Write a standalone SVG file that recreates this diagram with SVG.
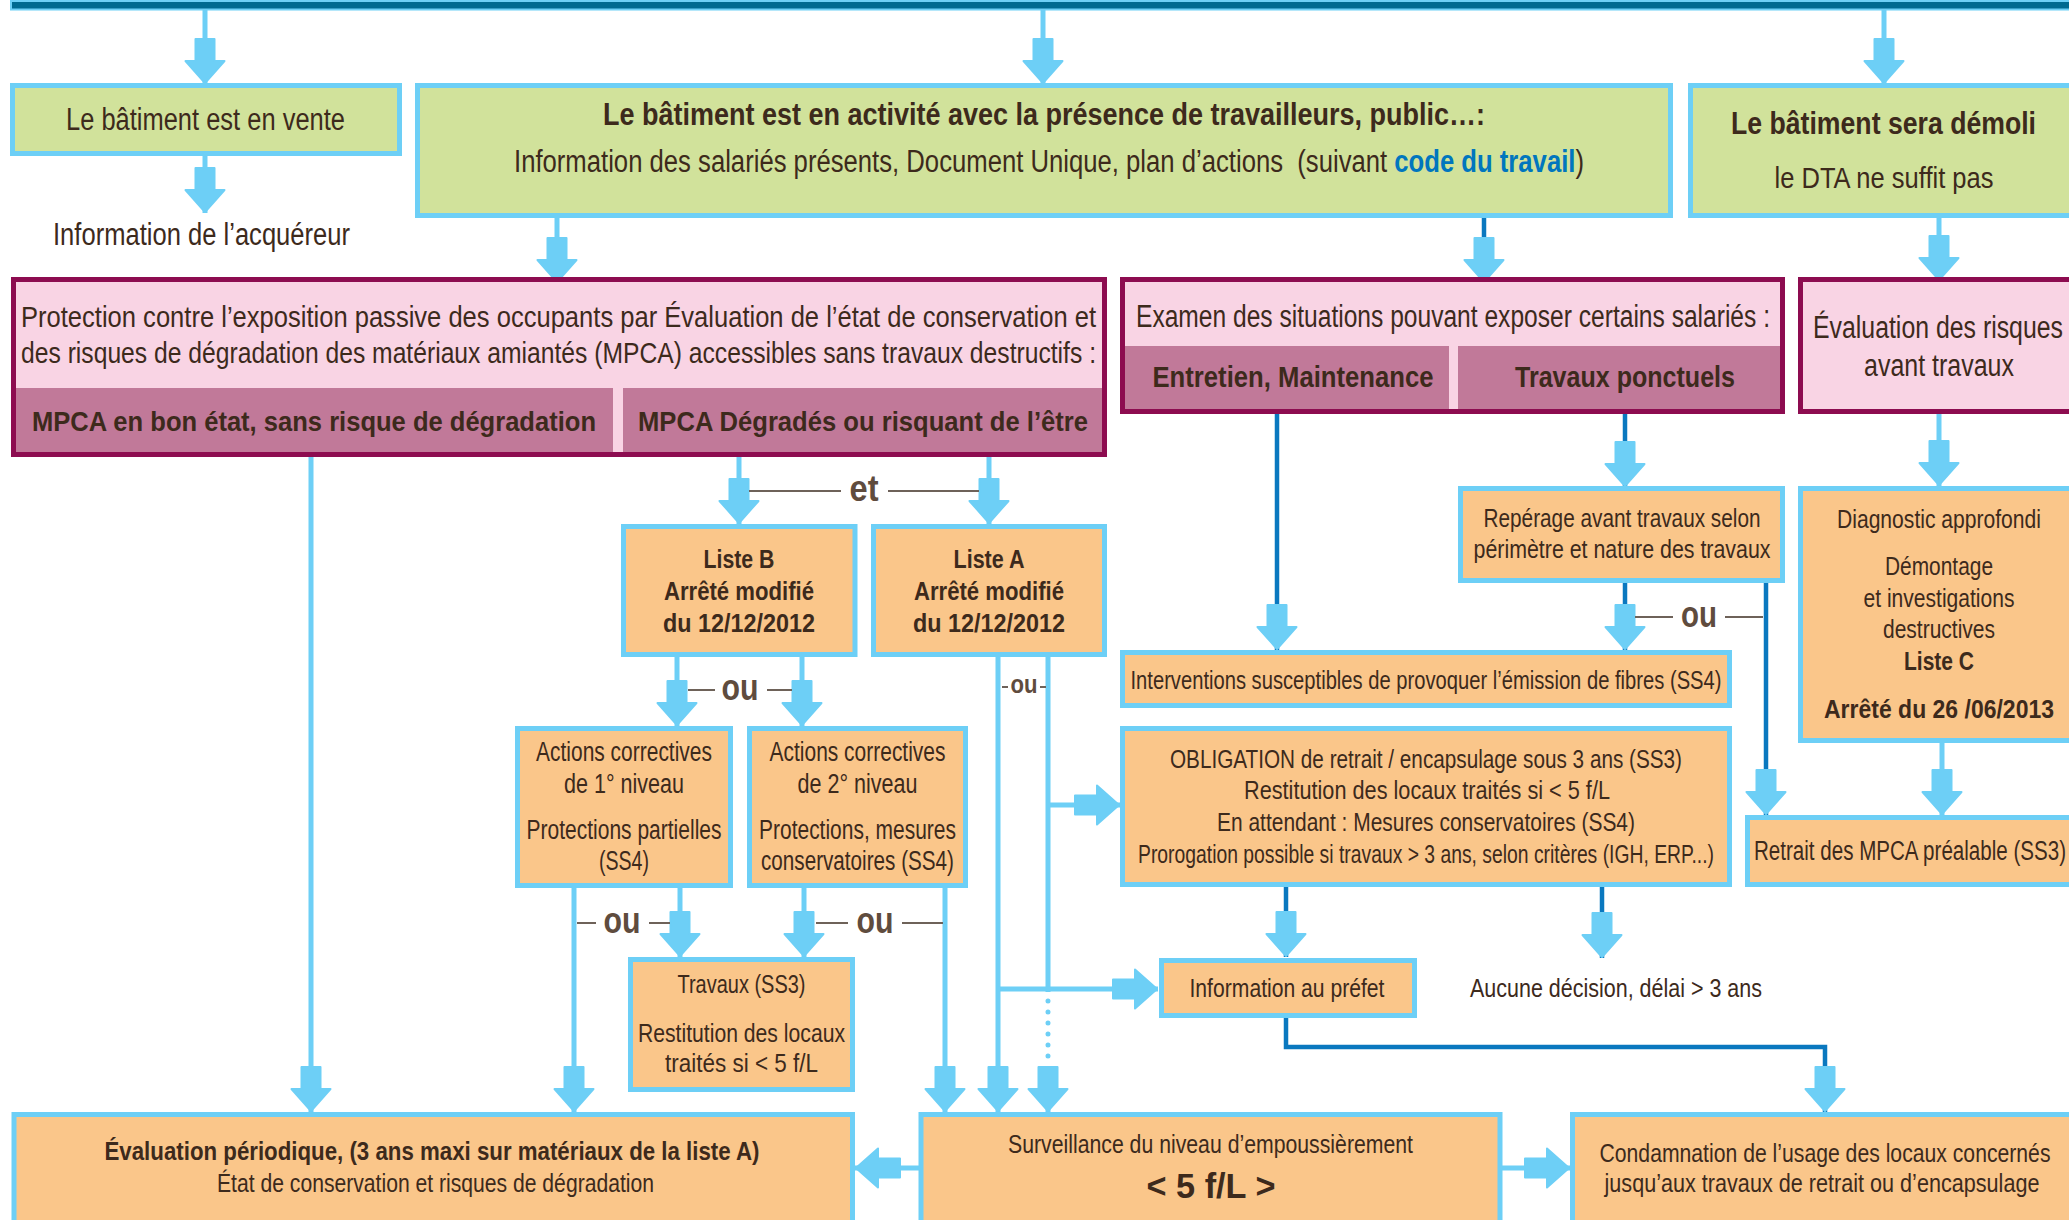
<svg xmlns="http://www.w3.org/2000/svg" width="2069" height="1220" viewBox="0 0 2069 1220">
<defs>
<style>
.t{font-family:"Liberation Sans",Arial,sans-serif;fill:#3d2a1c;text-anchor:middle}
.s{text-anchor:start}
.b{font-weight:bold}
.f31{font-size:31px}.f30{font-size:30px}.f28{font-size:28px}.f27{font-size:27px}.f26{font-size:26px}.f25{font-size:25px}.f24{font-size:24px}
.g{fill:#d1e29b;stroke:#6dcff6;stroke-width:5}
.o{fill:#fac68a;stroke:#6dcff6;stroke-width:5}
.p{fill:#f9d4e4;stroke:#8d0c50;stroke-width:5}
.band{fill:#c17999}
.lb{fill:none;stroke:#6dcff6;stroke-width:5}
.db{fill:none;stroke:#0a78bf;stroke-width:4.5}
.gr{fill:none;stroke:#6e6259;stroke-width:2}
.ou{font-family:"Liberation Sans",Arial,sans-serif;font-weight:bold;fill:#5f4c3e;text-anchor:middle}
.a{marker-end:url(#ah)}
</style>
<marker id="ah" markerUnits="userSpaceOnUse" viewBox="-47 -22 49 44" refX="0" refY="0" markerWidth="49" markerHeight="44" orient="auto" overflow="visible">
<path d="M-45,-9.5 H-23 V-19.5 L-1,0 L-23,19.5 V9.5 H-45 Z" fill="#6dcff6" stroke="#6dcff6" stroke-width="2" stroke-linejoin="round"/>
</marker>
</defs>
<rect width="2069" height="1220" fill="#ffffff"/>
<rect id="topbar" x="11" y="1" width="2080" height="8.5" fill="#006a91" stroke="#6dcff6" stroke-width="2"/>

<g id="connectors">
<path class="lb a" d="M205,10 V84"/>
<path class="lb a" d="M1043,10 V84"/>
<path class="lb a" d="M1884,10 V84"/>
<path class="lb a" d="M205,156 V213"/>
<path class="lb a" d="M557,218 V283"/>
<path class="db" d="M1290,180 V197 H1586 V180"/>
<path class="db a" d="M1484,197 V283"/>
<path class="lb a" d="M1939,218 V281"/>
<path class="lb a" d="M311,455 V1112"/>
<path class="lb a" d="M739,455 V524"/>
<path class="lb a" d="M989,455 V524"/>
<path class="gr" d="M749,491 H841 M888,491 H979"/>
<path class="lb a" d="M677,657 V726"/>
<path class="lb a" d="M802,657 V726"/>
<path class="gr" d="M688,690 H715 M767,690 H792"/>
<path class="lb a" d="M998,657 V1112"/>
<path class="lb" d="M1048,657 V992"/>
<path class="lb" d="M1048,1001 V1060" stroke-dasharray="0 11" stroke-linecap="round"/>
<path class="lb a" d="M1048,1066 V1112"/>
<path class="gr" d="M1002,687 H1008 M1040,687 H1046"/>
<path class="lb a" d="M1048,805 H1120"/>
<path class="lb a" d="M998,989 H1158"/>
<path class="lb a" d="M574,887 V1112"/>
<path class="lb a" d="M680,887 V957"/>
<path class="lb a" d="M804,887 V957"/>
<path class="lb a" d="M945,887 V1112"/>
<path class="gr" d="M577,923 H596 M649,923 H670 M816,923 H848 M902,923 H943"/>
<path class="lb a" d="M919,1168 H855"/>
<path class="lb a" d="M1502,1168 H1570"/>
<path class="db a" d="M1277,412 V650"/>
<path class="db a" d="M1625,412 V487"/>
<path class="db a" d="M1625,583 V650"/>
<path class="db a" d="M1766,583 V815"/>
<path class="gr" d="M1635,617 H1673 M1725,617 H1763"/>
<path class="lb a" d="M1939,412 V486"/>
<path class="lb a" d="M1942,743 V815"/>
<path class="db a" d="M1286,887 V957"/>
<path class="db a" d="M1602,887 V958"/>
<path class="db a" d="M1286,1018 V1047 H1825 V1112"/>
<text class="ou" x="864" y="501" font-size="36" textLength="29" lengthAdjust="spacingAndGlyphs">et</text>
<text class="ou" x="740" y="700" font-size="36" textLength="37" lengthAdjust="spacingAndGlyphs">ou</text>
<text class="ou" x="622" y="933" font-size="36" textLength="37" lengthAdjust="spacingAndGlyphs">ou</text>
<text class="ou" x="875" y="933" font-size="36" textLength="37" lengthAdjust="spacingAndGlyphs">ou</text>
<text class="ou" x="1699" y="627" font-size="36" textLength="36" lengthAdjust="spacingAndGlyphs">ou</text>
<text class="ou" x="1024" y="693" font-size="26" textLength="27" lengthAdjust="spacingAndGlyphs">ou</text>
</g>

<g id="vente">
<rect class="g" x="12.5" y="85.5" width="387" height="68"/>
<text class="t f31" x="205.5" y="130" textLength="279" lengthAdjust="spacingAndGlyphs">Le bâtiment est en vente</text>
</g>
<g id="acquereur">
<text class="t f31" x="201.5" y="245" textLength="297" lengthAdjust="spacingAndGlyphs">Information de l’acquéreur</text>
</g>

<g id="activite">
<rect class="g" x="417.5" y="85.5" width="1253" height="130"/>
<text class="t f31 b" x="1044" y="125" textLength="882" lengthAdjust="spacingAndGlyphs">Le bâtiment est en activité avec la présence de travailleurs, public…:</text>
<text class="t f31 s" x="514" y="172" textLength="1070" lengthAdjust="spacingAndGlyphs">Information des salariés présents, Document Unique, plan d’actions &#160;(suivant <tspan class="b" style="fill:#0076be">code du travail</tspan>)</text>
</g>

<g id="demoli">
<rect class="g" x="1690.5" y="85.5" width="400" height="130"/>
<text class="t f31 b" x="1883.5" y="134" textLength="305" lengthAdjust="spacingAndGlyphs">Le bâtiment sera démoli</text>
<text class="t f30" x="1884" y="188" textLength="219" lengthAdjust="spacingAndGlyphs">le DTA ne suffit pas</text>
</g>

<g id="protection">
<rect class="p" x="13.5" y="279.5" width="1091" height="175"/>
<rect class="band" x="16" y="388" width="597" height="64"/>
<rect class="band" x="623" y="388" width="479" height="64"/>
<text class="t f30 s" x="21" y="327" textLength="1075" lengthAdjust="spacingAndGlyphs">Protection contre l’exposition passive des occupants par Évaluation de l’état de conservation et</text>
<text class="t f30 s" x="21" y="363" textLength="1075" lengthAdjust="spacingAndGlyphs">des risques de dégradation des matériaux amiantés (MPCA) accessibles sans travaux destructifs :</text>
<text class="t f28 b" x="314" y="431" textLength="564" lengthAdjust="spacingAndGlyphs">MPCA en bon état, sans risque de dégradation</text>
<text class="t f28 b" x="863" y="431" textLength="450" lengthAdjust="spacingAndGlyphs">MPCA Dégradés ou risquant de l’être</text>
</g>

<g id="examen">
<rect class="p" x="1122.5" y="279.5" width="660" height="132"/>
<rect class="band" x="1125" y="346" width="324" height="63"/>
<rect class="band" x="1458" y="346" width="322" height="63"/>
<text class="t f31" x="1453" y="327" textLength="634" lengthAdjust="spacingAndGlyphs">Examen des situations pouvant exposer certains salariés :</text>
<text class="t f30 b" x="1293" y="387" textLength="281" lengthAdjust="spacingAndGlyphs">Entretien, Maintenance</text>
<text class="t f30 b" x="1625" y="387" textLength="220" lengthAdjust="spacingAndGlyphs">Travaux ponctuels</text>
</g>

<g id="evaluation-risques">
<rect class="p" x="1800.5" y="279.5" width="300" height="132"/>
<text class="t f31" x="1938" y="338" textLength="250" lengthAdjust="spacingAndGlyphs">Évaluation des risques</text>
<text class="t f31" x="1939" y="376" textLength="150" lengthAdjust="spacingAndGlyphs">avant travaux</text>
</g>

<g id="listeB">
<rect class="o" x="623.5" y="526.5" width="231.5" height="128"/>
<text class="t f25 b" x="739" y="568" textLength="71" lengthAdjust="spacingAndGlyphs">Liste B</text>
<text class="t f25 b" x="739" y="600" textLength="150" lengthAdjust="spacingAndGlyphs">Arrêté modifié</text>
<text class="t f25 b" x="739" y="632" textLength="152" lengthAdjust="spacingAndGlyphs">du 12/12/2012</text>
</g>
<g id="listeA">
<rect class="o" x="873.5" y="526.5" width="231" height="128"/>
<text class="t f25 b" x="989" y="568" textLength="71" lengthAdjust="spacingAndGlyphs">Liste A</text>
<text class="t f25 b" x="989" y="600" textLength="150" lengthAdjust="spacingAndGlyphs">Arrêté modifié</text>
<text class="t f25 b" x="989" y="632" textLength="152" lengthAdjust="spacingAndGlyphs">du 12/12/2012</text>
</g>

<g id="actions1">
<rect class="o" x="517.5" y="728.5" width="213" height="157"/>
<text class="t f27" x="624" y="761" textLength="176" lengthAdjust="spacingAndGlyphs">Actions correctives</text>
<text class="t f27" x="624" y="793" textLength="120" lengthAdjust="spacingAndGlyphs">de 1° niveau</text>
<text class="t f27" x="624" y="839" textLength="195" lengthAdjust="spacingAndGlyphs">Protections partielles</text>
<text class="t f27" x="624" y="870" textLength="50" lengthAdjust="spacingAndGlyphs">(SS4)</text>
</g>
<g id="actions2">
<rect class="o" x="749.5" y="728.5" width="216" height="157"/>
<text class="t f27" x="857.5" y="761" textLength="176" lengthAdjust="spacingAndGlyphs">Actions correctives</text>
<text class="t f27" x="857.5" y="793" textLength="120" lengthAdjust="spacingAndGlyphs">de 2° niveau</text>
<text class="t f27" x="857.5" y="839" textLength="197" lengthAdjust="spacingAndGlyphs">Protections, mesures</text>
<text class="t f27" x="857.5" y="870" textLength="193" lengthAdjust="spacingAndGlyphs">conservatoires (SS4)</text>
</g>

<g id="travaux">
<rect class="o" x="630.5" y="959.5" width="222" height="130"/>
<text class="t f25" x="741.5" y="993" textLength="128" lengthAdjust="spacingAndGlyphs">Travaux (SS3)</text>
<text class="t f25" x="741.5" y="1042" textLength="207" lengthAdjust="spacingAndGlyphs">Restitution des locaux</text>
<text class="t f25" x="741.5" y="1072" textLength="153" lengthAdjust="spacingAndGlyphs">traités si &lt; 5 f/L</text>
</g>

<g id="interventions">
<rect class="o" x="1122.5" y="652.5" width="607" height="53"/>
<text class="t f25" x="1426" y="689" textLength="591" lengthAdjust="spacingAndGlyphs">Interventions susceptibles de provoquer l’émission de fibres (SS4)</text>
</g>

<g id="obligation">
<rect class="o" x="1122.5" y="728.5" width="607" height="156"/>
<text class="t f26" x="1426" y="768" textLength="512" lengthAdjust="spacingAndGlyphs">OBLIGATION de retrait / encapsulage sous 3 ans (SS3)</text>
<text class="t f26" x="1427" y="799" textLength="366" lengthAdjust="spacingAndGlyphs">Restitution des locaux traités si &lt; 5 f/L</text>
<text class="t f26" x="1426" y="831" textLength="418" lengthAdjust="spacingAndGlyphs">En attendant : Mesures conservatoires (SS4)</text>
<text class="t f26" x="1426" y="863" textLength="576" lengthAdjust="spacingAndGlyphs">Prorogation possible si travaux &gt; 3 ans, selon critères (IGH, ERP...)</text>
</g>

<g id="reperage">
<rect class="o" x="1460.5" y="488.5" width="322" height="92"/>
<text class="t f26" x="1622" y="527" textLength="277" lengthAdjust="spacingAndGlyphs">Repérage avant travaux selon</text>
<text class="t f26" x="1622" y="558" textLength="297" lengthAdjust="spacingAndGlyphs">périmètre et nature des travaux</text>
</g>

<g id="diagnostic">
<rect class="o" x="1800.5" y="488.5" width="300" height="252"/>
<text class="t f26" x="1939" y="528" textLength="204" lengthAdjust="spacingAndGlyphs">Diagnostic approfondi</text>
<text class="t f26" x="1939" y="575" textLength="108" lengthAdjust="spacingAndGlyphs">Démontage</text>
<text class="t f26" x="1939" y="607" textLength="151" lengthAdjust="spacingAndGlyphs">et investigations</text>
<text class="t f26" x="1939" y="638" textLength="112" lengthAdjust="spacingAndGlyphs">destructives</text>
<text class="t f26 b" x="1939" y="670" textLength="70" lengthAdjust="spacingAndGlyphs">Liste C</text>
<text class="t f26 b" x="1939" y="718" textLength="230" lengthAdjust="spacingAndGlyphs">Arrêté du 26 /06/2013</text>
</g>

<g id="retrait">
<rect class="o" x="1747.5" y="817.5" width="400" height="67"/>
<text class="t f27 s" x="1754" y="860" textLength="312" lengthAdjust="spacingAndGlyphs">Retrait des MPCA préalable (SS3)</text>
</g>

<g id="prefet">
<rect class="o" x="1161.5" y="960.5" width="253" height="55"/>
<text class="t f25" x="1287" y="997" textLength="195" lengthAdjust="spacingAndGlyphs">Information au préfet</text>
</g>
<g id="aucune">
<text class="t f25" x="1616" y="997" textLength="292" lengthAdjust="spacingAndGlyphs">Aucune décision, délai &gt; 3 ans</text>
</g>

<g id="evaluation-periodique">
<rect class="o" x="14" y="1114.5" width="838.5" height="200"/>
<text class="t f25 b" x="432" y="1160" textLength="655" lengthAdjust="spacingAndGlyphs">Évaluation périodique, (3 ans maxi sur matériaux de la liste A)</text>
<text class="t f25" x="435.5" y="1192" textLength="437" lengthAdjust="spacingAndGlyphs">État de conservation et risques de dégradation</text>
</g>

<g id="surveillance">
<rect class="o" x="921" y="1114.5" width="579" height="200"/>
<text class="t f25" x="1210.5" y="1153" textLength="405" lengthAdjust="spacingAndGlyphs">Surveillance du niveau d’empoussièrement</text>
<text class="t b" x="1211" y="1198" font-size="35" textLength="129" lengthAdjust="spacingAndGlyphs">&lt; 5 f/L &gt;</text>
</g>

<g id="condamnation">
<rect class="o" x="1572.5" y="1114.5" width="600" height="200"/>
<text class="t f26" x="1825" y="1162" textLength="451" lengthAdjust="spacingAndGlyphs">Condamnation de l’usage des locaux concernés</text>
<text class="t f26" x="1822" y="1192" textLength="435" lengthAdjust="spacingAndGlyphs">jusqu’aux travaux de retrait ou d’encapsulage</text>
</g>
</svg>
